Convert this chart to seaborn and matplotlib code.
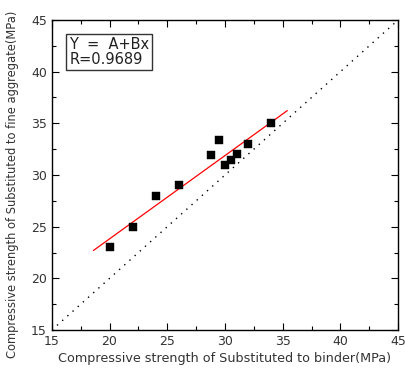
import numpy as np
import pandas as pd
import matplotlib
matplotlib.use("Agg")
import matplotlib.pyplot as plt
from matplotlib.ticker import MultipleLocator
import seaborn as sns

# Compressive strength (MPa): binder-substituted vs fine-aggregate-substituted
binder = [20, 22, 24, 26, 28.8, 29.5, 30, 30.5, 31, 32, 34]
fine_aggregate = [23, 25, 28, 29, 31.9, 33.4, 31, 31.5, 32, 33, 35]
fit_range = [18.6, 35.4]
equation_text = "Y  =  A+Bx\nR=0.9689"

sns.set_theme(style="ticks")
plt.rcParams["font.family"] = ["DejaVu Sans"]

df = pd.DataFrame({"binder": binder, "fine": fine_aggregate})

fig = plt.figure(figsize=(4.05, 3.7), dpi=100)
ax = fig.add_axes([0.128, 0.108, 0.855, 0.838])

# 1:1 reference line
diag = pd.DataFrame({"x": [15, 45], "y": [15, 45]})
sns.lineplot(data=diag, x="x", y="y", ax=ax, color="black",
             linestyle=(0, (1, 4)), linewidth=1.0)

# linear regression line
slope, intercept = np.polyfit(binder, fine_aggregate, 1)
fx = np.array(fit_range)
fit = pd.DataFrame({"x": fx, "y": intercept + slope * fx})
sns.lineplot(data=fit, x="x", y="y", ax=ax, color="red", linewidth=0.9)

sns.scatterplot(data=df, x="binder", y="fine", ax=ax, marker="s",
                s=40, color="black", edgecolor="black", linewidth=0.3,
                zorder=3)

ax.set_xlim(15, 45)
ax.set_ylim(15, 45)
ax.xaxis.set_major_locator(MultipleLocator(5))
ax.yaxis.set_major_locator(MultipleLocator(5))
ax.xaxis.set_minor_locator(MultipleLocator(2.5))
ax.yaxis.set_minor_locator(MultipleLocator(2.5))
ax.tick_params(which="both", direction="in", top=True, right=True,
               colors="black", labelcolor="#333333", labelsize=9)
ax.tick_params(which="major", length=5, width=0.8)
ax.tick_params(which="minor", length=3, width=0.8)
for sp in ax.spines.values():
    sp.set_linewidth(1.0)
    sp.set_color("black")

ax.set_xlabel("Compressive strength of Substituted to binder(MPa)",
              fontsize=9.2, color="#333333", labelpad=3)
ax.set_ylabel("Compressive strength of Substituted to fine aggregate(MPa)",
              fontsize=8.3, color="#333333")
ax.yaxis.set_label_coords(-0.095, 0.469)

ax.text(0.05, 0.945, equation_text, transform=ax.transAxes,
        fontsize=10.5, color="#222222", va="top", ha="left", linespacing=1.0,
        bbox=dict(boxstyle="square,pad=0.2", facecolor="white",
                  edgecolor="#333333", linewidth=1.0))

fig.savefig("out.png", dpi=100)
